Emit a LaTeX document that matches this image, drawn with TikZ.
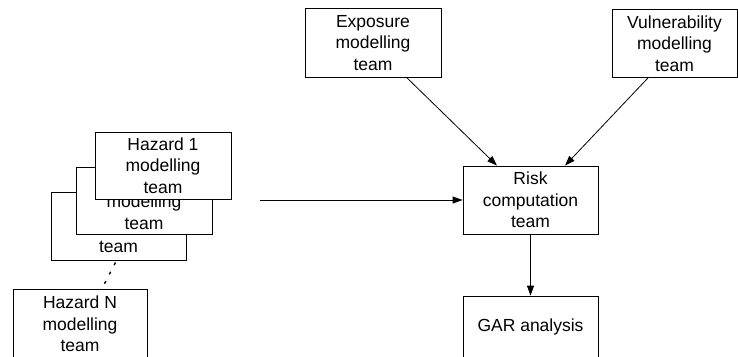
\documentclass[tikz,border=0pt]{standalone}
\usepackage{fontspec}
\setmainfont{Liberation Sans}
\usetikzlibrary{arrows.meta}
\tikzset{
  teambox/.style={draw, fill=white, line width=0.8pt, align=center, inner sep=0pt,
    font=\fontsize{17.5}{21.5}\selectfont},
  teamtext/.style={align=center, inner sep=0pt, font=\fontsize{17.5}{21.5}\selectfont},
  arr/.style={line width=0.8pt, -{Triangle[length=10pt,width=7pt]}},
}
\begin{document}
\begin{tikzpicture}[x=1pt,y=-1pt]
\useasboundingbox (0,0) rectangle (738,356);
% hazard stack (back to front)
\node[teambox, minimum width=135pt, minimum height=68pt] (h3) at (118.5,226) {};
\node[teamtext] (h3t) at (118.5,247) {team};
\node[teambox, minimum width=136pt, minimum height=67pt] (h2) at (144,200.5) {};
\node[teamtext] (h2t) at (144,212) {modelling\\team};
\node[teambox, minimum width=136pt, minimum height=67pt] (h1) at (163,165.5) {Hazard 1\\modelling\\team};
\node[teambox, minimum width=134pt, minimum height=70pt] (hN) at (80,324) {Hazard N\\modelling\\team};
% right side
\node[teambox, minimum width=136pt, minimum height=69pt] (exp) at (373,43) {Exposure\\modelling\\team};
\node[teambox, minimum width=125pt, minimum height=68pt] (vul) at (674.5,43.5) {Vulnerability\\modelling\\team};
\node[teambox, minimum width=135pt, minimum height=68pt] (risk) at (530.5,200) {Risk\\computation\\team};
\node[teambox, minimum width=135pt, minimum height=62pt] (gar) at (530.5,327) {GAR analysis};
% connectors
\coordinate (hin) at (260,200);
\draw[arr] (hin) -- (risk.west);
\draw[arr] ([xshift=34pt]exp.south) -- ([xshift=-33.5pt]risk.north);
\draw[arr] ([xshift=-26.5pt]vul.south) -- ([xshift=34.5pt]risk.north);
\draw[arr] (risk.south) -- (gar.north);
\draw[line width=1.4pt, dash pattern=on 3pt off 7.5pt] ([xshift=-3pt,yshift=-2pt]h3.south) -- ([xshift=22pt]hN.north);
\end{tikzpicture}
\end{document}
